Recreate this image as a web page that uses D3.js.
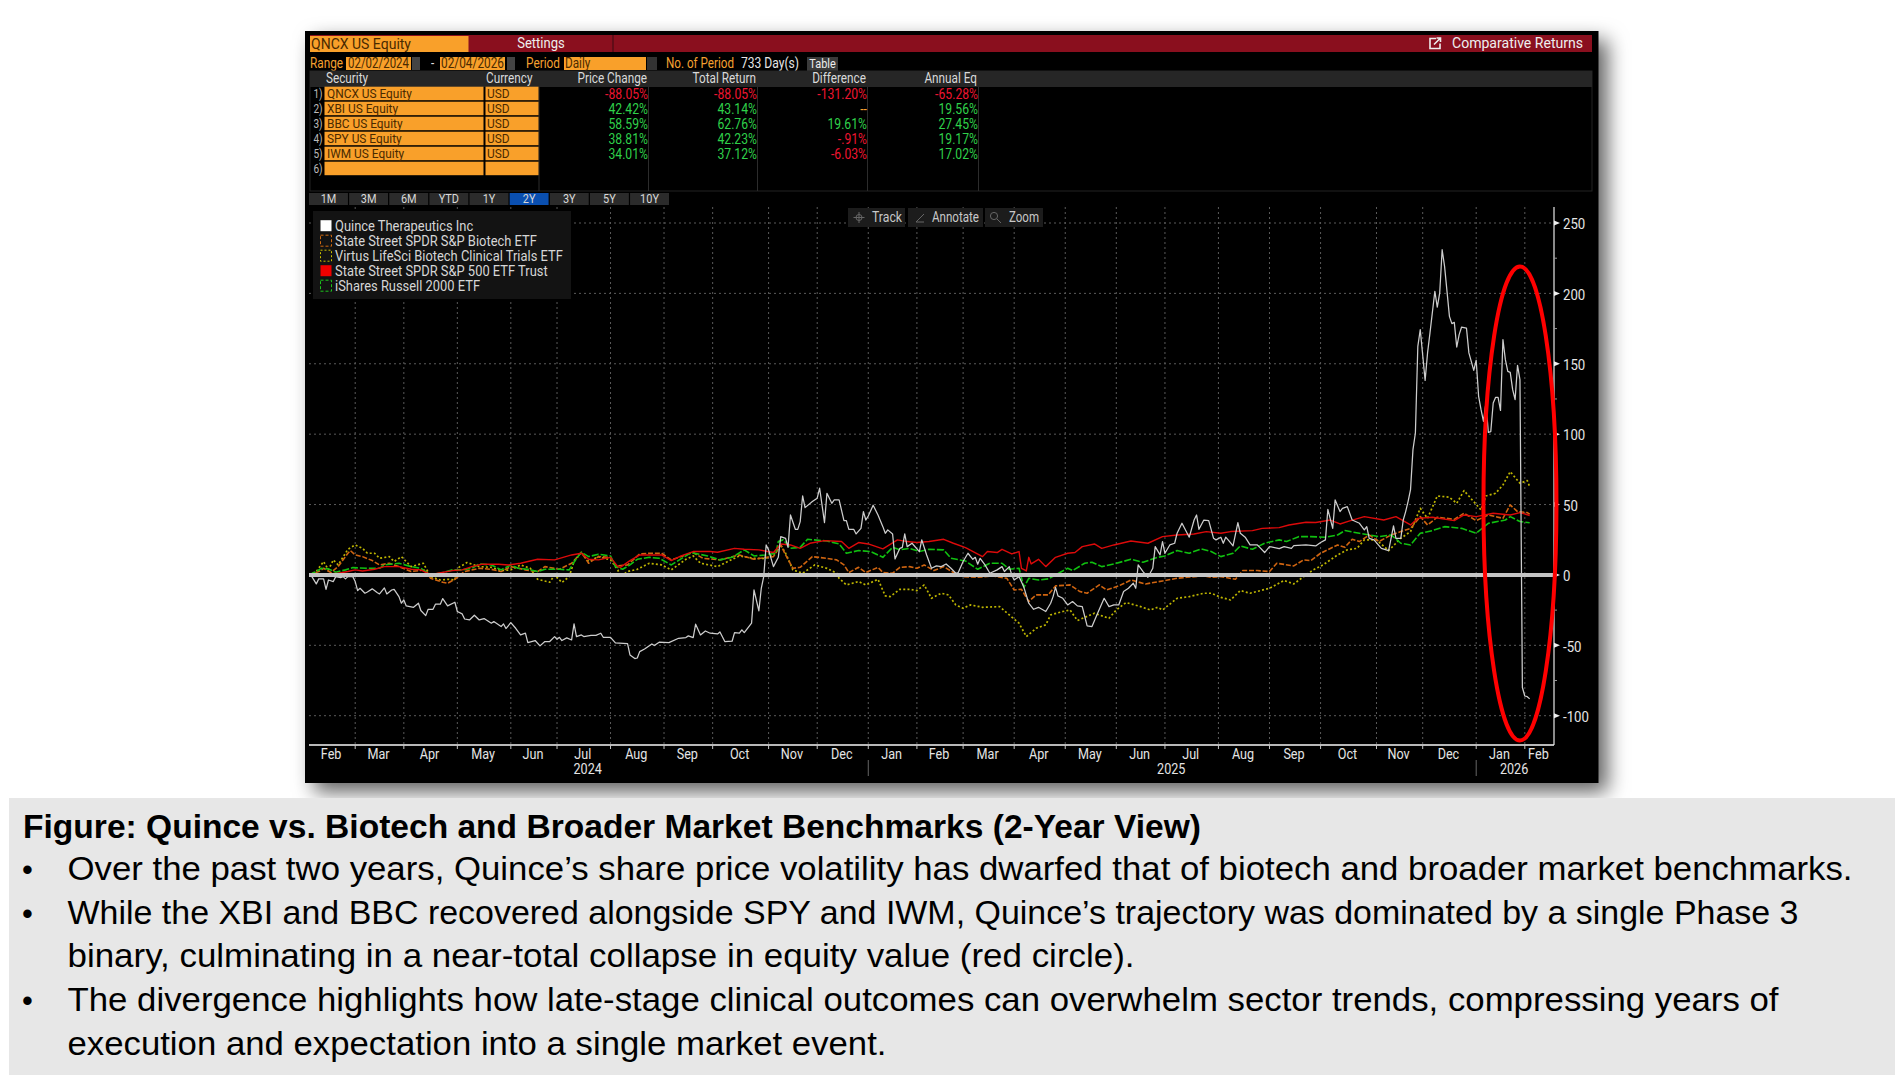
<!DOCTYPE html>
<html>
<head>
<meta charset="utf-8">
<script src="https://cdn.jsdelivr.net/npm/d3@7"></script>
<style>
html,body{margin:0;padding:0;background:#fff;overflow:hidden}
svg{display:block}
.t{font-family:"Roboto","Liberation Sans",sans-serif}
.b{font-family:"Liberation Sans",sans-serif}
</style>
</head>
<body>
<div id="page"></div>
<script>
// Month boundaries, counted in trading sessions since 2 Feb 2024
const monthLabels = ["Feb","Mar","Apr","May","Jun","Jul","Aug","Sep","Oct","Nov","Dec","Jan","Feb","Mar","Apr","May","Jun","Jul","Aug","Sep","Oct","Nov","Dec","Jan","Feb"];
const monthSessions = [0,19,39,61,83,102,124,146,166,189,209,230,250,269,290,311,332,352,374,395,416,439,458,480,500];
const yearLabels = ["2024","2025","2026"];
const yearSessions = [0,230,480];
const axisEndSession = 512;
const yTicksMajor = [250,200,150,100,50,0,-50,-100];
const yTicksMinor = [225,175,125,75,25,-25,-75];

// Cumulative return (%) per series
const qncxSessions = [0,1,3,4,6,7,8,10,11,13,14,15,16,18,19,20,21,23,24,26,28,29,31,32,34,35,37,38,39,40,43,45,46,48,49,51,52,54,55,57,60,61,63,64,66,68,70,72,75,76,79,80,81,83,85,87,89,90,93,95,97,99,101,102,103,104,106,108,109,110,112,113,116,118,120,121,124,126,131,132,134,135,136,138,141,142,144,148,152,155,156,158,159,161,163,165,168,169,171,174,175,177,178,179,182,183,185,186,187,188,189,191,193,194,196,197,198,200,201,202,203,204,207,209,210,212,213,215,216,218,220,221,222,224,225,227,228,229,230,232,234,236,237,238,240,241,243,244,245,246,248,251,252,254,256,258,260,262,264,266,267,269,271,273,274,275,276,278,280,283,285,286,288,289,290,292,294,296,298,300,303,305,306,307,308,310,312,314,316,318,320,322,324,327,329,331,333,335,337,339,340,341,343,345,347,348,350,351,352,354,356,357,359,362,364,365,366,368,370,372,373,375,376,377,378,380,382,383,385,387,390,391,393,395,399,401,404,405,410,414,416,418,419,421,422,424,425,427,429,432,434,435,436,438,441,444,446,447,449,450,451,452,453,454,455,456,457,459,460,461,463,464,465,466,467,469,470,471,472,473,474,476,477,479,480,481,482,483,484,485,486,487,488,489,490,491,492,493,494,495,496,497,498,499,500,501,502];
const qncxValues = [0,-0.7,-6.4,-2.8,-2.8,-10.2,-3.6,-4.7,-1.2,-1.9,-1.2,-2.8,-1.2,-1.2,-4.7,-11.1,-9.5,-13,-12.1,-9.9,-12.5,-13.5,-9.2,-13.5,-10.7,-10.2,-15.4,-20.1,-17.8,-22,-23,-20.1,-25.3,-28.9,-24.4,-24.4,-20.8,-20.8,-16.8,-22,-19.4,-26,-27.7,-31.3,-32,-28.6,-32,-31,-34.3,-33.1,-36.7,-34.8,-38.1,-33.9,-37.9,-42.6,-41.4,-48.1,-46.6,-50.4,-47.3,-47.3,-43.8,-45.7,-44.3,-46.6,-44.7,-46.2,-34.8,-43.8,-42.6,-43.8,-42.9,-42.9,-41.4,-44.3,-44.3,-48.3,-48.8,-56.8,-59.4,-59,-54.5,-52.6,-49,-50.2,-47.8,-48.1,-45,-44.5,-43.3,-44.5,-35,-42.6,-39.8,-41.4,-41.9,-40.5,-47.3,-47.1,-41,-41.4,-39,-41,-34.3,-10.7,-25.6,-9.5,-1.2,21.3,17.8,5.9,12.5,27.2,26,19.6,42.6,32.4,32.4,37.9,56.1,47.8,52.1,54.5,61.6,37.2,58,50.9,53.3,53.3,38.6,38.6,32.4,32.4,29.1,33.1,45,39,41.9,49.5,42.6,34.3,29.6,32,29.1,11.4,18.9,19.6,29.1,20.1,22.5,16.6,24.9,14.2,4.7,6.4,5.9,7.8,4.7,1.2,1.7,9.5,15.4,11.1,12.5,7.6,11.8,7.1,1.2,3.6,5.9,2.4,5.9,0,-3.6,-1.2,-8.8,-20.1,-24.4,-23,-26,-20.1,-15.4,-8.8,-14.9,-16.6,-21.3,-18.9,-22,-22.5,-36.2,-36.7,-28.4,-16.6,-22.5,-21.3,-21.3,-11.8,-9.5,-5.9,-9.5,7.1,2.4,-1.7,4.7,20.1,14.2,23.7,15.4,21.3,22.5,29.6,36.7,26.8,39,42.6,32.4,39,38.6,26,24.9,26.8,22.5,26.8,24.9,20.6,37.2,29.6,26.8,21.3,21.3,19.6,15.9,20.1,18.7,20.1,18.9,20.8,21.3,20.6,23,24.9,46.6,33.1,53.3,45,47.3,48.5,39,36.7,32,34.3,26,24.9,18.9,17.3,34.8,26,26,39,45,52.3,60.6,89,100.8,162.4,174.2,138.2,157.7,171.9,201.5,190.3,200.3,231,219.2,183.7,178.5,179.4,161.9,170.7,176.1,175.4,157.7,145.3,152.5,126.9,117.4,109.1,122.1,101.3,101.8,122.1,126.2,126.2,116.9,167.1,152.9,144.6,143.9,131.6,124.5,148.9,138.7,-80,-86,-86.5,-88.05];

const xbiSessions = [0,4,6,9,12,16,17,19,22,26,29,33,37,42,48,50,55,57,60,64,70,75,79,83,89,94,97,103,108,112,115,119,124,126,131,136,140,145,149,155,158,162,169,177,183,188,191,194,196,199,202,207,213,217,220,222,226,229,234,236,240,243,247,250,253,257,261,265,269,275,281,287,290,293,296,299,304,307,313,317,320,325,328,333,338,344,351,357,361,368,371,375,381,384,390,395,398,405,409,412,416,423,426,429,432,436,440,445,449,453,457,460,464,471,475,480,485,491,494,497,501,502];
const xbiValues = [0,2.4,4.7,1.7,5.9,15.4,17.3,14.2,13,10.2,7.1,8.3,5.9,2.4,3.6,-2.4,-5.2,-5.9,-3.1,2.4,4.7,4,2.4,5.9,3.6,2.4,5.9,4,8.3,16.1,8.3,13,12.5,6.4,7.1,14.9,15.4,15.4,10.7,14.2,15.9,11.8,10.7,14.2,11.1,12.5,13,21.3,14.2,4.7,5.4,13,11.8,10.7,7.1,1.7,5.4,1.7,5.4,1.7,1.2,5.4,5.9,4.7,7.1,3.1,5.9,1.7,-1.2,-1.7,-0.7,-2.4,-10.7,-10.2,-18.9,-14.2,-14.2,-7.8,-7.1,-11.8,-13,-7.1,-10.7,-7.8,-3.6,-6.4,-4.3,-2.4,-1.7,-0.7,-1.7,-1.2,-3.1,3.1,3.1,2.4,8.3,6.4,10.7,10.2,15.4,21.3,19.6,25.3,23.7,28.4,23.7,28.4,30.8,33.1,41.4,35.5,41,39.5,43.8,38.6,42.6,40.2,49.7,45,44.3,43.14];

const bbcSessions = [0,3,6,8,10,12,16,19,22,24,27,29,33,35,38,42,47,50,54,57,60,61,65,70,75,79,83,87,91,94,99,101,104,107,109,112,115,119,124,127,128,131,135,140,145,149,155,158,161,168,173,177,183,188,191,194,196,199,203,208,213,217,218,221,226,229,234,237,239,243,247,250,253,256,260,263,266,269,272,277,284,288,292,295,299,303,305,310,313,316,323,329,332,336,342,346,349,351,357,362,368,371,375,379,383,387,395,401,405,410,413,417,423,427,431,434,439,444,449,453,457,460,464,469,472,475,482,484,488,491,494,498,501,502];
const bbcValues = [0,2.4,9.5,3.6,10.7,7.1,18.2,21.3,18.9,15.4,15.4,11.8,13,9.5,13,5.9,8.3,-1.2,-3.6,-3.1,-3.6,4.7,8.8,5.9,5.4,3.1,3.6,7.1,4.7,-3.1,-5.2,0,-5.4,-1.2,9.5,16.1,9.5,13,10.7,3.6,-1.2,2.4,4,8.3,7.1,3.6,11.1,13.5,8.3,5.9,10.2,13.5,11.8,11.8,14.2,21.3,15.4,3.6,1.2,7.1,4.7,1.2,-2.4,-7.1,-4.7,-7.1,-3.1,-14.9,-15.4,-10.2,-10.2,-11.1,-7.1,-16.6,-13,-14.2,-21.3,-23.7,-21.3,-23,-22.5,-28.4,-34.3,-43.8,-37.9,-35.5,-28.4,-26,-24.9,-32.4,-27.2,-30.8,-24.9,-19.6,-22.5,-24.9,-23,-24.9,-16.6,-15.4,-13,-13,-15.9,-17.8,-11.1,-13,-9.5,-4,-6.4,0,3.6,7.1,14.2,17.8,18.9,24.9,24.9,17.3,26,30.8,47.3,40.2,56.1,55.2,50.9,59.9,46.2,56.1,58,63.9,73.4,65.1,67,62.76];

const spySessions = [0,7,12,16,19,22,27,31,37,42,46,50,53,59,63,67,71,78,82,87,94,101,108,112,115,119,124,127,128,132,136,142,145,149,153,158,165,168,175,179,185,191,194,198,202,206,212,219,222,226,230,236,242,246,250,255,261,265,270,277,279,283,285,289,292,293,295,296,297,300,303,307,312,315,318,323,326,331,338,345,351,357,364,369,375,379,388,392,399,403,410,414,420,424,428,434,442,447,453,456,462,471,475,480,487,494,498,502];
const spyValues = [0,0.5,1.2,2.4,3.6,2.8,4,5.9,5.9,4,3.6,0,1.2,3.1,3.6,5.9,7.6,7.6,7.1,8.3,11.1,10.7,14.2,15.4,11.1,10.7,12.5,5.9,5.4,10.2,14.2,14.2,14.2,10.2,13.5,16.6,16.6,16.1,18.9,18.2,17.8,15.9,22,21.3,18.9,22.5,24.4,23.7,18.9,23,22,18.5,24.9,23.7,23,23.7,25.3,22.5,19.4,13,16.6,15.9,18.2,14.9,16.6,4.7,2.8,12.5,7.8,11.1,5.9,12.5,15.4,15.9,20.1,22,18.9,21.3,24.1,22.5,27.2,28.4,29.1,30.8,29.6,30.8,31.5,33.1,33.6,35.5,37.4,37.2,39,36.2,38.4,41.4,39,41.4,35.5,40.2,41,38.6,42.6,41.4,43.8,42.6,44.3,42.23];

const iwmSessions = [0,3,5,8,11,15,18,24,29,31,37,42,46,48,50,55,59,63,67,70,75,79,83,86,90,94,97,103,107,110,112,115,119,124,126,129,132,135,140,144,149,154,157,164,169,174,179,183,188,192,193,195,198,202,205,213,218,221,226,231,236,240,243,247,251,255,261,264,270,275,280,285,288,292,294,296,300,304,309,312,314,319,322,326,331,338,343,349,352,357,362,367,371,375,380,383,388,393,399,402,407,412,418,423,426,432,440,445,449,453,457,462,467,474,480,485,492,494,498,502];
const iwmValues = [0,2.4,4.7,4.3,1.9,3.6,5.2,4.7,4.7,7.1,8.3,5.9,4.7,2.4,0,1.7,3.6,3.6,4.7,7.8,7.1,3.6,7.1,4.7,4,2.4,4,4,3.6,11.8,16.1,13,14.7,13.5,5.9,4,7.1,11.1,12.5,11.8,7.1,12.5,15.9,13.5,10.7,12.5,17.8,13.5,14.2,15.4,23.7,24.9,18.9,19.6,25.3,24.1,22,15.4,17.3,16.6,12.5,19.6,17.8,18.9,16.6,18.2,17.8,11.8,9.9,4,8.3,8.3,4,4.7,-8.8,-2.4,-3.6,-2.8,1.9,4.7,3.1,8.3,9,5.9,7.8,11.1,9,12.5,13.5,17.3,15.4,18.5,16.6,13,15.4,20.6,18.2,22.5,24.9,23.7,27.2,27.2,26.8,28.4,31.5,29.6,27.2,28.4,22.5,21.3,29.6,31.5,34.3,33.1,29.6,36.7,39,41.4,37.9,37.12];

// Security table
const securities = ["QNCX US Equity","XBI US Equity","BBC US Equity","SPY US Equity","IWM US Equity",""];
const currencies = ["USD","USD","USD","USD","USD",""];
const priceChange = ["-88.05%","42.42%","58.59%","38.81%","34.01%"];
const totalReturn = ["-88.05%","43.14%","62.76%","42.23%","37.12%"];
const difference = ["-131.20%","--","19.61%","-.91%","-6.03%"];
const annualEq = ["-65.28%","19.56%","27.45%","19.17%","17.02%"];
const tableHeaders = ["Price Change","Total Return","Difference","Annual Eq"];
const rangeButtons = ["1M","3M","6M","YTD","1Y","2Y","3Y","5Y","10Y"];
const legendNames = ["Quince Therapeutics Inc","State Street SPDR S&P Biotech ETF","Virtus LifeSci Biotech Clinical Trials ETF","State Street SPDR S&P 500 ETF Trust","iShares Russell 2000 ETF"];

// Caption under the chart
const captionTitle = "Figure: Quince vs. Biotech and Broader Market Benchmarks (2-Year View)";
const captionLines = [
  "Over the past two years, Quince\u2019s share price volatility has dwarfed that of biotech and broader market benchmarks.",
  "While the XBI and BBC recovered alongside SPY and IWM, Quince\u2019s trajectory was dominated by a single Phase 3",
  "binary, culminating in a near-total collapse in equity value (red circle).",
  "The divergence highlights how late-stage clinical outcomes can overwhelm sector trends, compressing years of",
  "execution and expectation into a single market event."
];

const W = 1896, H = 1088;
const svg = d3.select("#page").append("svg").attr("width", W).attr("height", H);

const defs = svg.append("defs");
defs.append("clipPath").attr("id","plotClip").append("rect")
  .attr("x",309).attr("y",207).attr("width",1245).attr("height",538);

// Terminal window with its drop shadow
svg.append("rect").attr("x",305).attr("y",31).attr("width",1293.5).attr("height",752)
  .attr("fill","#000").style("filter","drop-shadow(9px 9px 10px rgba(0,0,0,.62))");

// Terminal text is set tall and squeezed horizontally, like a narrow screen face
function label(parent, x, y, text, opts={}) {
  const el = parent.append("text").attr("class", opts.cls || "t")
    .attr("x",x).attr("y",y).attr("dy","0.35em")
    .attr("font-size",opts.size || 14)
    .attr("fill",opts.fill || "#d9d9d9")
    .attr("text-anchor",opts.anchor || "start")
    .text(text);
  if (opts.weight) el.attr("font-weight",opts.weight);
  const len = opts.len || el.node().getComputedTextLength() * (opts.squeeze || 0.84);
  el.attr("textLength",len).attr("lengthAdjust","spacingAndGlyphs");
  return el;
}
function box(parent,x,y,w,h,fill,stroke){
  const r = parent.append("rect").attr("x",x).attr("y",y).attr("width",w).attr("height",h).attr("fill",fill);
  if (stroke) r.attr("stroke",stroke);
  return r;
}

const ORANGE = "#f9a02a", OTEXT = "#f5a030", MAROON = "#8a0f1e";
const term = svg.append("g");

// Title bar
box(term,310,35,1282,17,MAROON);
box(term,310,36,158.5,16,ORANGE);
term.append("line").attr("x1",613).attr("x2",613).attr("y1",35).attr("y2",52).attr("stroke","#3b0a10");
label(term,311,43.5,"QNCX US Equity",{fill:"#4a2a00",size:15.5,len:100});
label(term,541,43,"Settings",{fill:"#eeeeee",size:15.5,anchor:"middle"});
label(term,1452,43,"Comparative Returns",{fill:"#eeeeee",size:15,len:131});
term.append("path").attr("d","M1436 38.5h-6v10h10v-5M1434 44.5l6-6M1436.5 38h4v4")
  .attr("fill","none").attr("stroke","#eeeeee").attr("stroke-width",1.6);

// Range / period row
label(term,310,63,"Range",{fill:OTEXT,size:14,len:33});
box(term,346,57,65,13,ORANGE);
label(term,348,63,"02/02/2024",{fill:"#4a2a00",size:14,len:61});
box(term,412,57,8,13,"#444");
label(term,431,63,"-",{fill:"#ddd",size:14});
box(term,440,57,65,13,ORANGE);
label(term,441,63,"02/04/2026",{fill:"#4a2a00",size:14,len:63});
box(term,507,57,8,13,"#444");
label(term,526,63,"Period",{fill:OTEXT,size:14,len:34});
box(term,564,57,82,13,ORANGE);
label(term,565,63,"Daily",{fill:"#4a2a00",size:14});
box(term,647,57,10,13,"#333");
label(term,666,63,"No. of Period",{fill:OTEXT,size:14,len:68});
label(term,741,63,"733 Day(s)",{fill:"#e6e6e6",size:14,len:58});
box(term,807,57,31,14,"#3a3a3a");
label(term,822.5,63,"Table",{fill:"#eee",size:13,anchor:"middle"});

// Security table
const rowY = d3.scaleLinear().domain([0,5]).range([93.7,168.7]);
box(term,310,71,1282,120,"#000","#232323");
box(term,310,71,1282,16,"#262626");
label(term,326,78.5,"Security",{size:14});
label(term,486,78.5,"Currency",{size:14});
const colRight = [647,756,866,977];
colRight.forEach((x,i)=>{
  label(term,x,78.5,tableHeaders[i],{size:14,anchor:"end"});
  term.append("line").attr("x1",x+1.5).attr("x2",x+1.5).attr("y1",87).attr("y2",191).attr("stroke","#2c2c2c");
});
term.append("line").attr("x1",539).attr("x2",539).attr("y1",87).attr("y2",191).attr("stroke","#2c2c2c");
const valueColour = v => v === "--" ? OTEXT : (v[0] === "-" ? "#ee1530" : "#2fd04a");
securities.forEach((name,i)=>{
  const y = rowY(i);
  label(term,318,y,(i+1)+")",{anchor:"middle",size:12,fill:"#bbb"});
  box(term,324.5,y-7,159,13.5,ORANGE);
  box(term,485.5,y-7,53,13.5,ORANGE);
  if (name) label(term,327,y-0.5,name,{fill:"#4a2a00",size:13.5,squeeze:0.88});
  if (currencies[i]) label(term,487,y-0.5,currencies[i],{fill:"#4a2a00",size:13.5,squeeze:0.88});
});
[priceChange,totalReturn,difference,annualEq].forEach((col,c)=>{
  col.forEach((v,i)=>label(term,colRight[c]+1,rowY(i)+0.5,v,{size:14,anchor:"end",fill:valueColour(v),squeeze:0.87}));
});

// Period buttons
const btnX = d3.scaleBand().domain(rangeButtons).range([309,669]).paddingInner(0.03);
rangeButtons.forEach(b=>{
  box(term,btnX(b),193,btnX.bandwidth(),12,b==="2Y"?"#0a4fb0":"#2b2b2b");
  label(term,btnX(b)+btnX.bandwidth()/2,198.5,b,{anchor:"middle",size:13,fill:"#d8d8d8"});
});

// Scales
const x = d3.scaleLinear().domain([0,axisEndSession]).range([309,1554]);
const y = d3.scaleLinear().domain([-100,250]).range([715.7,223]);
const plotTop = 207, plotBottom = 745, plotRight = x(axisEndSession), plotLeft = x(0);

// Grid
const grid = svg.append("g").attr("stroke","#5a5a5a").attr("stroke-width",1).attr("stroke-dasharray","2 3");
grid.selectAll(".h").data(yTicksMajor.filter(v=>v!==0)).join("line")
  .attr("x1",plotLeft).attr("x2",plotRight).attr("y1",d=>y(d)).attr("y2",d=>y(d));
grid.selectAll(".v").data(monthSessions.slice(1)).join("line")
  .attr("x1",d=>x(d)).attr("x2",d=>x(d)).attr("y1",plotTop).attr("y2",plotBottom);

// Legend and chart toolbar
box(svg,313,211,258,88,"#131313");
const legendY = d3.scaleLinear().domain([0,4]).range([225.7,285.7]);
const swatchStyles = [
  {fill:"#ffffff"},
  {stroke:"#d06a10",dash:"3 2"},
  {stroke:"#c8c000",dash:"2 2"},
  {fill:"#f00000"},
  {stroke:"#1cc41c",dash:"3 2"}
];
legendNames.forEach((n,i)=>{
  const yy = legendY(i), s = swatchStyles[i];
  const r = svg.append("rect").attr("x",320.5).attr("y",yy-5.5).attr("width",11).attr("height",11);
  if (s.fill) r.attr("fill",s.fill);
  else r.attr("fill","none").attr("stroke",s.stroke).attr("stroke-dasharray",s.dash);
  label(svg,335,yy,n,{size:14.5,fill:"#d6d6d6",squeeze:0.89});
});
const toolbar = [["Track",848,57,872,30],["Annotate",908,75,932,47],["Zoom",985,58,1009,30]];
toolbar.forEach(([t,bx,bw,tx,tl])=>{
  box(svg,bx,208,bw,19,"#1c1c1c");
  label(svg,tx,217.5,t,{size:14,fill:"#c8c8c8",len:tl});
});
svg.append("path").attr("d","M859 212v11M853.5 217.5h11").attr("stroke","#666").attr("fill","none");
svg.append("circle").attr("cx",859).attr("cy",217.5).attr("r",3).attr("stroke","#666").attr("fill","none");
svg.append("path").attr("d","M916 222l8-8M916 222h8").attr("stroke","#666").attr("fill","none");
svg.append("circle").attr("cx",994).attr("cy",216).attr("r",3.6).attr("stroke","#666").attr("fill","none");
svg.append("path").attr("d","M997 219l4 4").attr("stroke","#666").attr("fill","none");

// Return lines
const line = d3.line().x(d=>x(d[0])).y(d=>y(d[1]));
const series = [
  {s:bbcSessions,v:bbcValues,stroke:"#bdb400",w:1.7,dash:"2 2.2"},
  {s:xbiSessions,v:xbiValues,stroke:"#cf6410",w:1.6,dash:"5 1.8"},
  {s:iwmSessions,v:iwmValues,stroke:"#10c010",w:1.6,dash:"7 2"},
  {s:spySessions,v:spyValues,stroke:"#dc0a0a",w:1.4,dash:null},
  {s:qncxSessions,v:qncxValues,stroke:"#cdcdcd",w:1.25,dash:null}
];
const lines = svg.append("g").attr("clip-path","url(#plotClip)").attr("fill","none").attr("stroke-linejoin","round");
series.forEach(o=>{
  lines.append("path").datum(d3.zip(o.s,o.v)).attr("d",line)
    .attr("stroke",o.stroke).attr("stroke-width",o.w).attr("stroke-dasharray",o.dash);
});

// Zero baseline
svg.append("line").attr("x1",plotLeft).attr("x2",plotRight).attr("y1",y(0)).attr("y2",y(0))
  .attr("stroke","#c4c4c4").attr("stroke-width",4);

// Bottom time axis
const axisBottom = svg.append("g");
axisBottom.append("line").attr("x1",plotLeft).attr("x2",plotRight).attr("y1",plotBottom).attr("y2",plotBottom)
  .attr("stroke","#b8b8b8").attr("stroke-width",2);
monthSessions.slice(1).forEach(s=>{
  axisBottom.append("line").attr("x1",x(s)).attr("x2",x(s)).attr("y1",plotBottom).attr("y2",plotBottom+4).attr("stroke","#c4c4c4");
});
monthLabels.forEach((m,i)=>{
  const next = i+1<monthSessions.length ? monthSessions[i+1] : axisEndSession;
  label(axisBottom,x((monthSessions[i]+next)/2)-1,754,m,{anchor:"middle",size:15,fill:"#e4e4e4"});
});
yearLabels.forEach((t,i)=>{
  const next = i+1<yearSessions.length ? yearSessions[i+1] : axisEndSession;
  label(axisBottom,x((yearSessions[i]+next)/2)-1,769,t,{anchor:"middle",size:15,fill:"#e4e4e4"});
  if (i>0) axisBottom.append("line").attr("x1",x(yearSessions[i])).attr("x2",x(yearSessions[i])).attr("y1",760).attr("y2",776).attr("stroke","#666");
});

// Right value axis
const axisRight = svg.append("g");
axisRight.append("line").attr("x1",plotRight).attr("x2",plotRight).attr("y1",plotTop).attr("y2",plotBottom).attr("stroke","#e8e8e8").attr("stroke-width",1.2);
yTicksMinor.forEach(v=>axisRight.append("line").attr("x1",plotRight).attr("x2",plotRight+3).attr("y1",y(v)).attr("y2",y(v)).attr("stroke","#999"));
yTicksMajor.forEach(v=>{
  axisRight.append("path").attr("d",d3.line()([[plotRight,y(v)-2.5],[plotRight+6,y(v)],[plotRight,y(v)+2.5]])+"Z").attr("fill","#f0f0f0");
  label(axisRight,plotRight+9,y(v)+1,String(v),{size:15,fill:"#e4e4e4",squeeze:0.88});
});

// Red ring around the final collapse
svg.append("ellipse").attr("cx",x(498)).attr("cy",503.5).attr("rx",36.5).attr("ry",237)
  .attr("fill","none").attr("stroke","#ff0000").attr("stroke-width",4);

// Caption panel
svg.append("rect").attr("x",9).attr("y",798).attr("width",1886).attr("height",277).attr("fill","#e7e7e7");
function caption(text,xPos,base,len,weight){
  const t = svg.append("text").attr("class","b").attr("x",xPos).attr("y",base)
    .attr("font-size",33).attr("fill","#000").attr("textLength",len).attr("lengthAdjust","spacingAndGlyphs").text(text);
  if (weight) t.attr("font-weight",weight);
}
caption(captionTitle,23,838,1178,"bold");
const lineBase = [880,924,967,1011,1055];
const lineWidth = [1785,1731,1067,1711,819];
captionLines.forEach((t,i)=>caption(t,67.5,lineBase[i],lineWidth[i]));
[880,924,1011].forEach(b=>{
  svg.append("text").attr("class","b").attr("x",22).attr("y",b).attr("font-size",31).attr("fill","#000").text("\u2022");
});
</script>
</body>
</html>
